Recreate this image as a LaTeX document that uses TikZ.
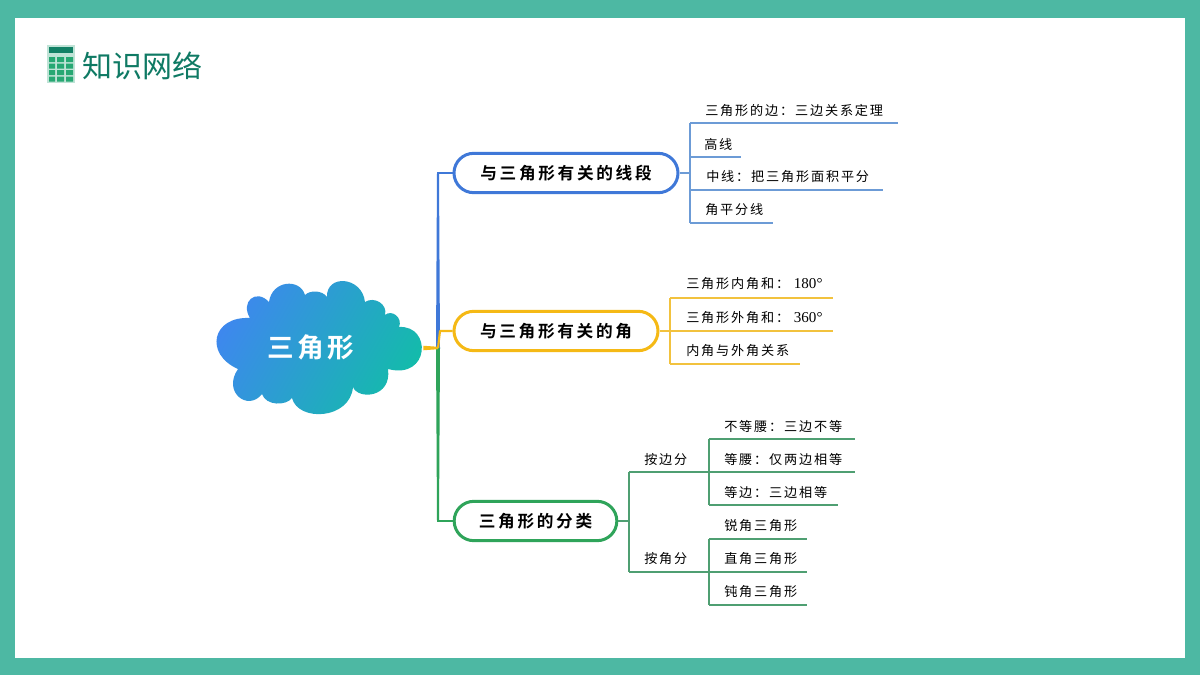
\documentclass[tikz,border=0pt]{standalone}
\usepackage{amsmath}
\usepackage{fontspec}
\usepackage{tikz}
\usetikzlibrary{shapes.misc}
\newfontfamily\cjkfont{Noto Sans CJK SC}
\newfontfamily\cjkleaf[LetterSpace=14]{Noto Sans CJK SC}
\newfontfamily\cjkpill[LetterSpace=16]{Noto Sans CJK SC Bold}
\newfontfamily\cjkroot[LetterSpace=12]{Noto Sans CJK SC Bold}
\newfontfamily\numfont{Liberation Serif}
\definecolor{framegreen}{HTML}{4DB8A3}
\definecolor{titleteal}{HTML}{0F7A64}
\definecolor{keygreen}{HTML}{27A873}
\definecolor{iconback}{HTML}{BFE3D6}
\definecolor{cloudblue}{HTML}{3F86F0}
\definecolor{cloudmid}{HTML}{3392DC}
\definecolor{cloudteal}{HTML}{12BDA8}
\definecolor{segblue}{HTML}{3F78D8}
\definecolor{anglegold}{HTML}{F5B915}
\definecolor{classgreen}{HTML}{2FA45A}
\definecolor{segline}{HTML}{6C9BD6}
\definecolor{angleline}{HTML}{F2C23E}
\definecolor{classline}{HTML}{4F9F72}
\tikzset{
	pill/.style={draw,rounded rectangle,fill=white,line width=2.25pt,minimum height=29.5pt,inner sep=0pt,font=\cjkpill\fontsize{12.5pt}{14pt}\selectfont},
	leaf/.style={anchor=west,inner sep=0.75pt,font=\cjkleaf\fontsize{9.85pt}{11pt}\selectfont},
	segbranch/.style={draw=segline,line width=0.85pt},
	anglebranch/.style={draw=angleline,line width=0.85pt},
	classbranch/.style={draw=classline,line width=0.85pt}
}
\begin{document}
\begin{tikzpicture}[x=0.75pt,y=0.75pt,yscale=-1,xscale=1]
	\useasboundingbox (0,0) rectangle (1200,675);

	%Shape: Frame
	\fill [framegreen] (0,0) rectangle (1200,675);
	\fill [white] (15,18) rectangle (1185,658);

	%Shape: Calculator
	\fill [iconback] (47,45) rectangle (75,83);
	\fill [titleteal!85!keygreen] (49,47) rectangle (73,53);
	\fill [keygreen] (49,57) rectangle (55,62) (57,57) rectangle (64,62) (66,57) rectangle (73,62);
	\fill [keygreen] (49,63.5) rectangle (55,68.5) (57,63.5) rectangle (64,68.5) (66,63.5) rectangle (73,68.5);
	\fill [keygreen] (49,70) rectangle (55,75) (57,70) rectangle (64,75) (66,70) rectangle (73,75);
	\fill [keygreen] (49,76.5) rectangle (55,81.5) (57,76.5) rectangle (64,81.5) (66,76.5) rectangle (73,81.5);

	% Text Node
	\draw (81,66) node [anchor=west][inner sep=0.75pt] (title) {\cjkfont\fontsize{22.5pt}{26pt}\selectfont\color{titleteal}知识网络};

	%Shape: Cloud
	\shade [left color=cloudblue,middle color=cloudmid,right color=cloudteal,shading angle=60]
		(250,318) .. controls (240,302) and (256,288) .. (269,302)
		.. controls (272,280) and (300,278) .. (305,295)
		.. controls (310,290) and (322,290) .. (327,297)
		.. controls (326,274) and (362,276) .. (365,302)
		.. controls (374,296) and (388,304) .. (385,315)
		.. controls (392,309) and (403,318) .. (399,327)
		.. controls (432,325) and (430,380) .. (388,369)
		.. controls (392,398) and (358,400) .. (353,387)
		.. controls (350,420) and (298,422) .. (292,398)
		.. controls (286,406) and (266,406) .. (262,394)
		.. controls (248,412) and (222,392) .. (238,369)
		.. controls (204,354) and (212,316) .. (250,318) -- cycle;
	\node [minimum width=153.75pt,minimum height=96pt,inner sep=0pt] (cloud) at (320.5,348) {};
	% Text Node
	\draw (311,347) node [inner sep=0.75pt] (rootlabel) {\cjkroot\fontsize{20pt}{24pt}\selectfont\color{white}三角形};

	% Branch nodes
	\node [pill,draw=segblue,minimum width=168pt] (seg) at (566,173) {与三角形有关的线段};
	\node [pill,draw=anglegold,minimum width=153pt] (angle) at (556,331) {与三角形有关的角};
	\node [pill,draw=classgreen,minimum width=122pt] (class) at (535.5,521) {三角形的分类};

	\coordinate (trunk) at (438,348);
	\coordinate (segbend) at (seg.west -| trunk);
	\coordinate (classbend) at (class.west -| trunk);
	\coordinate (anglebend) at (440,331);

	%Straight Lines
	\fill [classgreen] ([xshift=-1.5pt]trunk) -- ([xshift=1.5pt]trunk) -- ([xshift=0.75pt]classbend) -- ([xshift=-0.75pt]classbend) -- cycle;
	\draw [classgreen,line width=1.5pt] ([xshift=-0.75pt]classbend) -- (class.west);
	%Straight Lines
	\fill [segblue] ([xshift=-1.5pt]trunk) -- ([xshift=1.5pt]trunk) -- ([xshift=0.75pt]segbend) -- ([xshift=-0.75pt]segbend) -- cycle;
	\draw [segblue,line width=1.5pt] ([xshift=-0.75pt]segbend) -- (seg.west);
	%Straight Lines
	\fill [anglegold] ([yshift=-1.7pt]cloud.east) -- ([yshift=1.7pt]cloud.east) -- ([yshift=0.9pt]trunk) -- ([yshift=-0.9pt]trunk) -- cycle;
	\draw [anglegold,line width=1.6pt,line join=round] (trunk) -- (anglebend) -- (angle.west);

	% Segment branch
	\coordinate (s1) at (690,123);
	\coordinate (s1e) at (898,123);
	\coordinate (s2) at (690,157);
	\coordinate (s2e) at (741,157);
	\coordinate (s3) at (690,190);
	\coordinate (s3e) at (883,190);
	\coordinate (s4) at (690,223);
	\coordinate (s4e) at (773,223);
	\draw [segbranch] (seg.east) -- (seg.east -| s1);
	\draw [segbranch] (s1) -- (s4);
	\draw [segbranch] (s1) -- (s1e);
	\draw [segbranch] (s2) -- (s2e);
	\draw [segbranch] (s3) -- (s3e);
	\draw [segbranch] (s4) -- (s4e);
	% Text Node
	\draw (704,110.5) node [leaf] (st1) {三角形的边：三边关系定理};
	% Text Node
	\draw (703,144) node [leaf] (st2) {高线};
	% Text Node
	\draw (705,177) node [leaf] (st3) {中线：把三角形面积平分};
	% Text Node
	\draw (704,210) node [leaf] (st4) {角平分线};

	% Angle branch
	\coordinate (a1) at (670,298);
	\coordinate (a1e) at (833,298);
	\coordinate (a2) at (670,331);
	\coordinate (a2e) at (833,331);
	\coordinate (a3) at (670,364);
	\coordinate (a3e) at (800,364);
	\draw [anglebranch] (angle.east) -- (a2);
	\draw [anglebranch] (a1) -- (a3);
	\draw [anglebranch] (a1) -- (a1e);
	\draw [anglebranch] (a2) -- (a2e);
	\draw [anglebranch] (a3) -- (a3e);
	% Text Node
	\draw (685,284) node [leaf] (at1) {三角形内角和：\hspace{3.5pt}{\numfont\fontsize{11.3pt}{13pt}\selectfont 180°}};
	% Text Node
	\draw (685,318) node [leaf] (at2) {三角形外角和：\hspace{3.5pt}{\numfont\fontsize{11.3pt}{13pt}\selectfont 360°}};
	% Text Node
	\draw (685,351) node [leaf] (at3) {内角与外角关系};

	% Class branch
	\coordinate (c1) at (629,472);
	\coordinate (c1e) at (709,472);
	\coordinate (c2) at (629,572);
	\coordinate (c2e) at (709,572);
	\draw [classbranch] (class.east) -- (class.east -| c1);
	\draw [classbranch] (c1) -- (c2);
	\draw [classbranch] (c1) -- (c1e);
	\draw [classbranch] (c2) -- (c2e);
	% Text Node
	\draw (643,459) node [leaf] (ct1) {按边分};
	% Text Node
	\draw (643,558.5) node [leaf] (ct2) {按角分};

	\coordinate (d1) at (709,439);
	\coordinate (d1e) at (855,439);
	\coordinate (d2e) at (855,472);
	\coordinate (d3) at (709,505);
	\coordinate (d3e) at (838,505);
	\draw [classbranch] (d1) -- (d3);
	\draw [classbranch] (d1) -- (d1e);
	\draw [classbranch] (c1e) -- (d2e);
	\draw [classbranch] (d3) -- (d3e);
	% Text Node
	\draw (723,426) node [leaf] (dt1) {不等腰：三边不等};
	% Text Node
	\draw (723,459) node [leaf] (dt2) {等腰：仅两边相等};
	% Text Node
	\draw (723,492) node [leaf] (dt3) {等边：三边相等};

	\coordinate (e1) at (709,539);
	\coordinate (e1e) at (807,539);
	\coordinate (e2e) at (807,572);
	\coordinate (e3) at (709,605);
	\coordinate (e3e) at (807,605);
	\draw [classbranch] (e1) -- (e3);
	\draw [classbranch] (e1) -- (e1e);
	\draw [classbranch] (c2e) -- (e2e);
	\draw [classbranch] (e3) -- (e3e);
	% Text Node
	\draw (723,526) node [leaf] (et1) {锐角三角形};
	% Text Node
	\draw (723,558.5) node [leaf] (et2) {直角三角形};
	% Text Node
	\draw (723,592) node [leaf] (et3) {钝角三角形};

\end{tikzpicture}
\end{document}
